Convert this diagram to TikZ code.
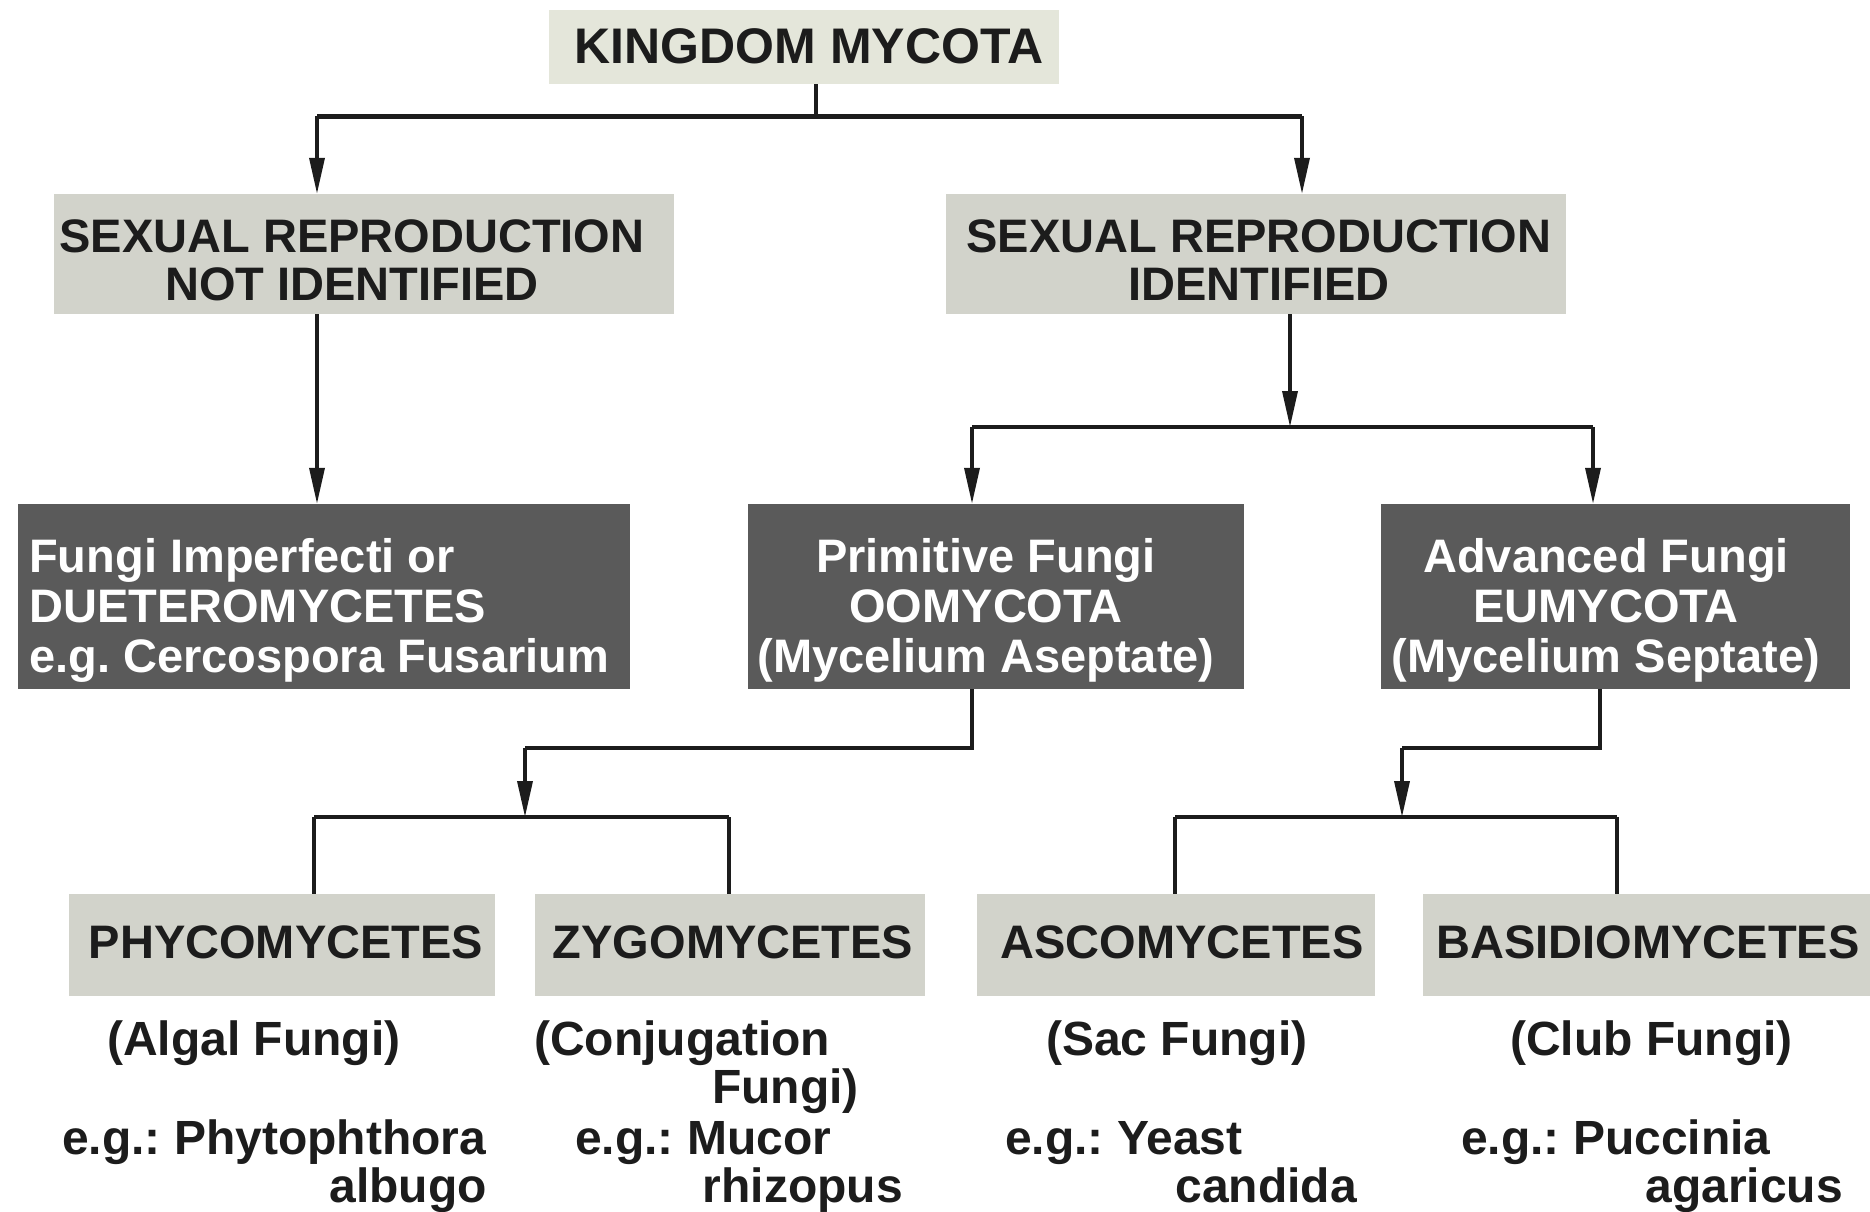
\documentclass[tikz,border=0pt]{standalone}
\usepackage{fontspec}
\setmainfont{Liberation Sans}
\usetikzlibrary{arrows.meta}
\definecolor{kmfill}{RGB}{228,230,218}
\definecolor{lgray}{RGB}{210,211,203}
\definecolor{dgray}{RGB}{90,90,90}
\definecolor{ink}{RGB}{28,28,28}
\frenchspacing
\begin{document}
\begin{tikzpicture}[x=1pt,y=-1pt,
  lbox/.style={rectangle, fill=lgray, draw=none, inner sep=0pt},
  dbox/.style={rectangle, fill=dgray, draw=none, inner sep=0pt},
  btxt/.style={inner sep=0pt, text=ink, align=center, font=\fontsize{47}{48}\selectfont\bfseries},
  wtxt/.style={inner sep=0pt, text=white, align=center, font=\fontsize{47}{50}\selectfont\bfseries},
  ltxt/.style={inner sep=0pt, text=ink, font=\fontsize{48}{48}\selectfont\bfseries},
  conn/.style={line width=3.5pt, draw=ink},
  arr/.style={conn, -{Triangle[length=36pt,width=15pt]}}
]
\useasboundingbox (0,0) rectangle (1870,1211);

% boxes
\node[rectangle, fill=kmfill, inner sep=0pt, minimum width=510pt, minimum height=74pt] (km) at (804,47) {};
\node[lbox, minimum width=620pt, minimum height=120pt] (srn) at (364,254) {};
\node[lbox, minimum width=620pt, minimum height=120pt] (sri) at (1256,254) {};
\node[dbox, minimum width=612pt, minimum height=185pt] (fi) at (324,596.5) {};
\node[dbox, minimum width=496pt, minimum height=185pt] (pf) at (996,596.5) {};
\node[dbox, minimum width=469pt, minimum height=185pt] (af) at (1615.5,596.5) {};
\node[lbox, minimum width=426pt, minimum height=102pt] (phy) at (282,945) {};
\node[lbox, minimum width=390pt, minimum height=102pt] (zyg) at (730,945) {};
\node[lbox, minimum width=398pt, minimum height=102pt] (asc) at (1176,945) {};
\node[lbox, minimum width=447pt, minimum height=102pt] (bas) at (1646.5,945) {};

% box texts
\node[btxt, font=\fontsize{50}{52}\selectfont\bfseries] (kmt) at (809,46) {KINGDOM MYCOTA};
\node[btxt] (srnt) at (352,260) {SEXUAL REPRODUCTION\\NOT IDENTIFIED};
\node[btxt] (srit) at (1259,260) {SEXUAL REPRODUCTION\\IDENTIFIED};
\node[wtxt, align=left, anchor=west] (fit) at (29,610) {Fungi Imperfecti or\\DUETEROMYCETES\\e.g. Cercospora Fusarium};
\node[wtxt] (pft) at (986,610) {Primitive Fungi\\OOMYCOTA\\(Mycelium Aseptate)};
\node[wtxt] (aft) at (1606,610) {Advanced Fungi\\EUMYCOTA\\(Mycelium Septate)};
\node[btxt] (phyt) at (286,942) {PHYCOMYCETES};
\node[btxt] (zygt) at (733,942) {ZYGOMYCETES};
\node[btxt] (asct) at (1182,942) {ASCOMYCETES};
\node[btxt] (bast) at (1648,942) {BASIDIOMYCETES};

% lower texts
\node[ltxt, anchor=base west] (c1a) at (107,1055) {(Algal Fungi)};
\node[ltxt, anchor=base west] (c1b) at (62,1154) {e.g.: Phytophthora};
\node[ltxt, anchor=base east] (c1c) at (487,1202) {albugo};
\node[ltxt, anchor=base west] (c2a) at (534,1055) {(Conjugation};
\node[ltxt, anchor=base east] (c2b) at (859,1103) {Fungi)};
\node[ltxt, anchor=base west] (c2c) at (575,1154) {e.g.: Mucor};
\node[ltxt, anchor=base east] (c2d) at (903,1202) {rhizopus};
\node[ltxt, anchor=base west] (c3a) at (1046,1055) {(Sac Fungi)};
\node[ltxt, anchor=base west] (c3b) at (1005,1154) {e.g.: Yeast};
\node[ltxt, anchor=base east] (c3c) at (1357,1202) {candida};
\node[ltxt, anchor=base west] (c4a) at (1510,1055) {(Club Fungi)};
\node[ltxt, anchor=base west] (c4b) at (1461,1154) {e.g.: Puccinia};
\node[ltxt, anchor=base east] (c4c) at (1843,1202) {agaricus};

% junction coordinates
\coordinate (j1) at (816,116);
\coordinate (j1L) at (317,116);
\coordinate (j1R) at (1302,116);
\coordinate (j2) at (1290,427);
\coordinate (j2L) at (972,427);
\coordinate (j2R) at (1593,427);
\coordinate (j3) at (972,748);
\coordinate (j3b) at (525,748);
\coordinate (j4) at (525,817);
\coordinate (j4L) at (314,817);
\coordinate (j4R) at (729,817);
\coordinate (j5) at (1600,748);
\coordinate (j5b) at (1402,748);
\coordinate (j6) at (1402,817);
\coordinate (j6L) at (1175,817);
\coordinate (j6R) at (1617,817);

% connectors
\draw[conn] (km.south -| j1) -- (j1);
\draw[conn, line width=5pt] (j1L) -- (j1R);
\draw[arr] (j1L) -- (j1L |- srn.north);
\draw[arr] (j1R) -- (j1R |- sri.north);
\draw[arr] (srn.south -| j1L) -- (j1L |- fi.north);
\draw[arr] (sri.south -| j2) -- (j2);
\draw[conn] (j2L) -- (j2R);
\draw[arr] (j2L) -- (j2L |- pf.north);
\draw[arr] (j2R) -- (j2R |- af.north);
\draw[conn] (pf.south -| j3) -- (j3) -- (j3b);
\draw[arr] (j3b) -- (j4);
\draw[conn] (j4L) -- (j4R);
\draw[conn] (j4L) -- (j4L |- phy.north);
\draw[conn] (j4R) -- (j4R |- zyg.north);
\draw[conn] (af.south -| j5) -- (j5) -- (j5b);
\draw[arr] (j5b) -- (j6);
\draw[conn] (j6L) -- (j6R);
\draw[conn] (j6L) -- (j6L |- asc.north);
\draw[conn] (j6R) -- (j6R |- bas.north);
\end{tikzpicture}
\end{document}
